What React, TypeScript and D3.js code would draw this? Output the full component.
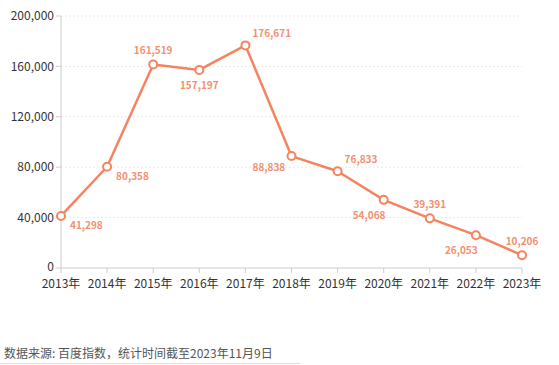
import * as d3 from "d3";

const years = ["2013年", "2014年", "2015年", "2016年", "2017年", "2018年", "2019年", "2020年", "2021年", "2022年", "2023年"];
const values = [41298, 80358, 161519, 157197, 176671, 88838, 76833, 54068, 39391, 26053, 10206];
const yTicks = [0, 40000, 80000, 120000, 160000, 200000];
// where each value label sits relative to its point
const labelPos = ["br", "br", "t", "b", "tr", "l", "tr", "bl", "t", "bl", "t"];

const W = 559;
const H = 365;
const MARGIN = { top: 16, right: 37, bottom: 97, left: 61 };
const COLOR = "#f4845f";
const FONT = "'Noto Sans CJK SC', 'Noto Sans', sans-serif";

export default function App() {
  const boundsWidth = W - MARGIN.left - MARGIN.right;
  const boundsHeight = H - MARGIN.top - MARGIN.bottom;

  const xScale = d3.scalePoint<string>().domain(years).range([0, boundsWidth]);
  const yScale = d3.scaleLinear().domain([0, 200000]).range([boundsHeight, 0]);
  const fmt = d3.format(",");

  const line = d3
    .line<number>()
    .x((_, i) => xScale(years[i]) as number)
    .y((d) => yScale(d));

  const labelAttrs = (pos: string) => {
    switch (pos) {
      case "br":
        return { dx: 9, dy: 13, anchor: "start" };
      case "t":
        return { dx: 0, dy: -10, anchor: "middle" };
      case "b":
        return { dx: 0, dy: 19, anchor: "middle" };
      case "tr":
        return { dx: 7, dy: -8, anchor: "start" };
      case "l":
        return { dx: -39, dy: 15, anchor: "start" };
      case "bl":
        return { dx: -31, dy: 19, anchor: "start" };
      default:
        return { dx: 0, dy: 0, anchor: "middle" };
    }
  };

  return (
    <svg width={W} height={H} style={{ position: "absolute", top: 0, left: 0, fontFamily: FONT }}>
      <rect width={W} height={H} fill="#fff" />
      <g transform={`translate(${MARGIN.left},${MARGIN.top})`}>
        {yTicks.map((t) => (
          <g key={t}>
            {t > 0 && (
              <line x1={0} x2={boundsWidth} y1={yScale(t)} y2={yScale(t)} stroke="#e8e8e8" strokeDasharray="2,2" />
            )}
            <line x1={-5} x2={0} y1={yScale(t)} y2={yScale(t)} stroke="#ccc" />
            <text x={-7} y={yScale(t)} dy={t === 0 ? "0.25em" : "0.35em"} textAnchor="end" fontSize={12} fill="#333">
              {fmt(t)}
            </text>
          </g>
        ))}
        <line x1={0} x2={0} y1={0} y2={boundsHeight} stroke="#ccc" />
        <line x1={0} x2={boundsWidth} y1={boundsHeight} y2={boundsHeight} stroke="#ccc" />
        {years.map((y) => (
          <g key={y}>
            <line x1={xScale(y)} x2={xScale(y)} y1={boundsHeight} y2={boundsHeight + 5} stroke="#ccc" />
            <text x={xScale(y)} y={boundsHeight + 20} textAnchor="middle" fontSize={12} fill="#333">
              {y}
            </text>
          </g>
        ))}
        <path d={line(values) ?? ""} fill="none" stroke={COLOR} strokeWidth={2.5} strokeLinejoin="round" />
        {values.map((v, i) => {
          const cx = xScale(years[i]) as number;
          const cy = yScale(v);
          const a = labelAttrs(labelPos[i]);
          return (
            <g key={i}>
              <circle cx={cx} cy={cy} r={4} fill="#fff" stroke={COLOR} strokeWidth={2} />
              <text
                x={cx + a.dx}
                y={cy + a.dy}
                textAnchor={a.anchor}
                fontSize={10}
                fontWeight="bold"
                fill={COLOR}
                opacity={0.9}
              >
                {fmt(v)}
              </text>
            </g>
          );
        })}
      </g>
      <text x={4} y={358} fontSize={12} fill="#555">
        数据来源: 百度指数，统计时间截至2023年11月9日
      </text>
      <line x1={0} x2={300} y1={363.5} y2={363.5} stroke="#ddd" />
    </svg>
  );
}
